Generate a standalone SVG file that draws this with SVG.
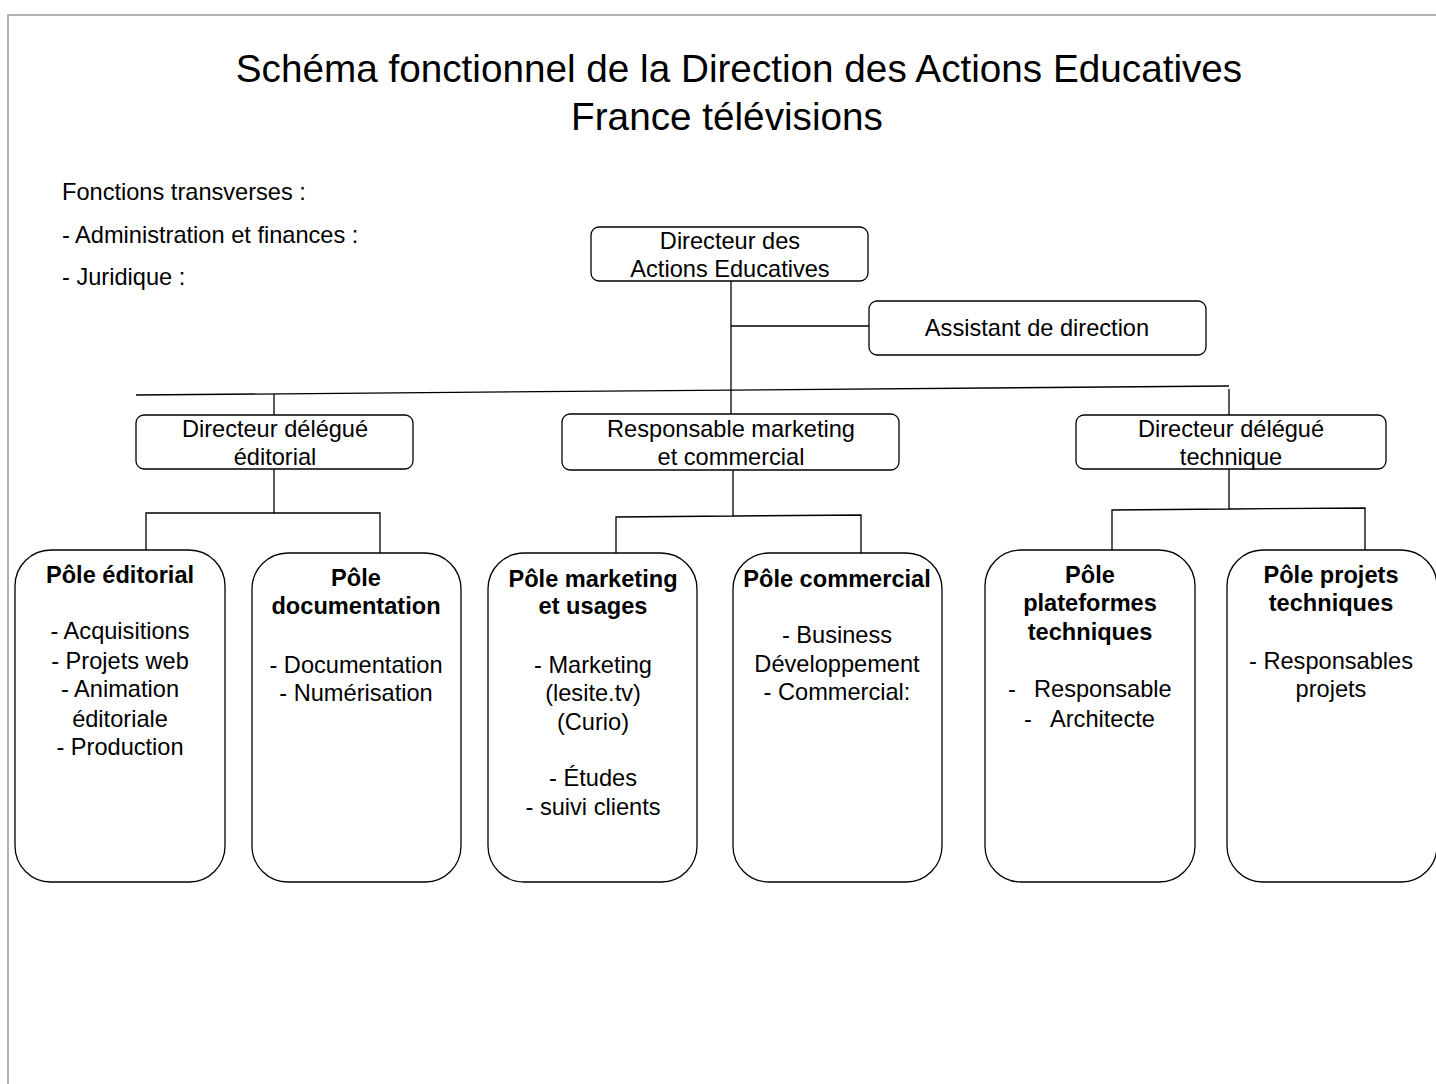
<svg xmlns="http://www.w3.org/2000/svg" width="1436" height="1084" viewBox="0 0 1436 1084">
<style>
text{font-family:"Liberation Sans",Arial,sans-serif;fill:#000}
.t{font-size:38.7px;text-anchor:middle}
.l{font-size:23.6px}
.c{font-size:23.6px;text-anchor:middle}
.b{font-size:23.6px;text-anchor:middle;font-weight:bold}
.box{fill:#fff;stroke:#000;stroke-width:1.3}
.ln{stroke:#000;stroke-width:1.3;fill:none}
</style>
<rect x="0" y="0" width="1436" height="1084" fill="#fff"/>
<path d="M8,1084 V15 H1436" fill="none" stroke="#999" stroke-width="1.5"/>
<text class="t" x="739" y="82">Schéma fonctionnel de la Direction des Actions Educatives</text>
<text class="t" x="727" y="130">France télévisions</text>
<text class="l" x="62" y="200">Fonctions transverses :</text>
<text class="l" x="62" y="243">- Administration et finances :</text>
<text class="l" x="62" y="285">- Juridique :</text>
<g id="connectors">
<line class="ln" x1="731" y1="281" x2="731" y2="415"/>
<line class="ln" x1="731" y1="326" x2="869" y2="326"/>
<line class="ln" x1="136" y1="395" x2="1229" y2="386"/>
<line class="ln" x1="274" y1="394" x2="274" y2="415"/>
<line class="ln" x1="1229" y1="389" x2="1229" y2="415"/>
<polyline class="ln" points="274,469 274,513 146,513 146,550"/>
<polyline class="ln" points="274,513 380,513 380,553"/>
<polyline class="ln" points="733,470 733,516 616,517 616,553"/>
<polyline class="ln" points="733,516 861,515 861,553"/>
<polyline class="ln" points="1229,469 1229,509 1112,510 1112,550"/>
<polyline class="ln" points="1229,509 1365,508 1365,550"/>
</g>
<g id="directeur">
<rect class="box" x="591" y="227" width="277" height="54" rx="8"/>
<text class="c" x="730" y="249">Directeur des</text>
<text class="c" x="730" y="277">Actions Educatives</text>
</g>
<g id="assistant">
<rect class="box" x="869" y="301" width="337" height="54" rx="8"/>
<text class="c" x="1037" y="336">Assistant de direction</text>
</g>
<g id="dir-editorial">
<rect class="box" x="136" y="415" width="277" height="54" rx="8"/>
<text class="c" x="275" y="437">Directeur délégué</text>
<text class="c" x="275" y="465">éditorial</text>
</g>
<g id="resp-marketing">
<rect class="box" x="562" y="414" width="337" height="56" rx="8"/>
<text class="c" x="731" y="437">Responsable marketing</text>
<text class="c" x="731" y="465">et commercial</text>
</g>
<g id="dir-technique">
<rect class="box" x="1076" y="415" width="310" height="54" rx="8"/>
<text class="c" x="1231" y="437">Directeur délégué</text>
<text class="c" x="1231" y="465">technique</text>
</g>
<g id="pole-editorial">
<rect class="box" x="15" y="550" width="210" height="332" rx="36"/>
<text class="b" x="120" y="583">Pôle éditorial</text>
<text class="c" x="120" y="639">- Acquisitions</text>
<text class="c" x="120" y="669">- Projets web</text>
<text class="c" x="120" y="697">- Animation</text>
<text class="c" x="120" y="727">éditoriale</text>
<text class="c" x="120" y="755">- Production</text>
</g>
<g id="pole-documentation">
<rect class="box" x="252" y="553" width="209" height="329" rx="36"/>
<text class="b" x="356" y="586">Pôle</text>
<text class="b" x="356" y="614">documentation</text>
<text class="c" x="356" y="673">- Documentation</text>
<text class="c" x="356" y="701">- Numérisation</text>
</g>
<g id="pole-marketing">
<rect class="box" x="488" y="553" width="209" height="329" rx="36"/>
<text class="b" x="593" y="587">Pôle marketing</text>
<text class="b" x="593" y="614">et usages</text>
<text class="c" x="593" y="673">- Marketing</text>
<text class="c" x="593" y="701">(lesite.tv)</text>
<text class="c" x="593" y="730">(Curio)</text>
<text class="c" x="593" y="786">- Études</text>
<text class="c" x="593" y="815">- suivi clients</text>
</g>
<g id="pole-commercial">
<rect class="box" x="733" y="553" width="209" height="329" rx="36"/>
<text class="b" x="837" y="587">Pôle commercial</text>
<text class="c" x="837" y="643">- Business</text>
<text class="c" x="837" y="672">Développement</text>
<text class="c" x="837" y="700">- Commercial:</text>
</g>
<g id="pole-plateformes">
<rect class="box" x="985" y="550" width="210" height="332" rx="36"/>
<text class="b" x="1090" y="583">Pôle</text>
<text class="b" x="1090" y="611">plateformes</text>
<text class="b" x="1090" y="640">techniques</text>
<text class="l" x="1008" y="697">-</text>
<text class="l" x="1034" y="697">Responsable</text>
<text class="l" x="1024" y="727">-</text>
<text class="l" x="1050" y="727">Architecte</text>
</g>
<g id="pole-projets">
<rect class="box" x="1227" y="550" width="210" height="332" rx="36"/>
<text class="b" x="1331" y="583">Pôle projets</text>
<text class="b" x="1331" y="611">techniques</text>
<text class="c" x="1331" y="669">- Responsables</text>
<text class="c" x="1331" y="697">projets</text>
</g>
</svg>
